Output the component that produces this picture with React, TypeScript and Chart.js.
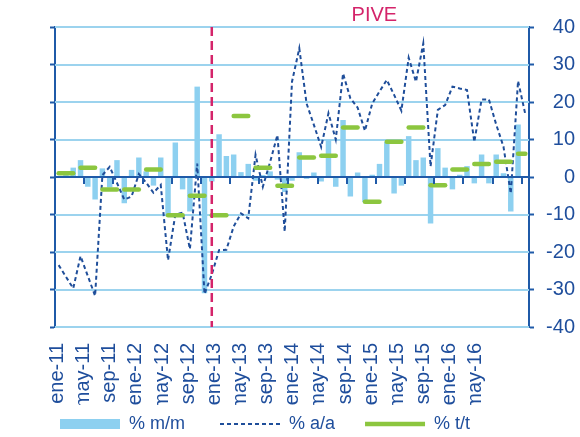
import React, { useEffect, useRef } from 'react';
import { Chart, registerables } from 'chart.js';

Chart.register(...registerables);

// ---- data ----
const monthNames = ['ene', 'feb', 'mar', 'abr', 'may', 'jun', 'jul', 'ago', 'sep', 'oct', 'nov', 'dic'];
const firstYear = 2011;
const monthCount = 65;
const categories = Array.from({ length: monthCount }, (_, i) =>
  `${monthNames[i % 12]}-${String((firstYear + Math.floor(i / 12)) % 100).padStart(2, '0')}`
);

const xTickLabels = [
  'ene-11', 'may-11', 'sep-11', 'ene-12', 'may-12', 'sep-12', 'ene-13', 'may-13', 'sep-13',
  'ene-14', 'may-14', 'sep-14', 'ene-15', 'may-15', 'sep-15', 'ene-16', 'may-16',
];

// % m/m (bars)
const mmValues = [
  0.3, 1.0, 2.5, 4.5, -2.6, -6.0, 2.3, -2.8, 4.5, -7.0, 1.9, 5.2,
  1.5, -2.3, 5.2, -10.5, 9.2, -3.3, -9.2, 24.1, -31.0, -1.2, 11.4, 5.6,
  6.0, 1.3, 3.5, -1.0, 0.5, 1.5, -0.7, -4.0, -1.0, 6.6, -0.5, 1.2,
  -1.2, 9.9, -2.6, 15.2, -5.2, 1.2, -6.7, 0.6, 3.5, 9.4, -4.4, -2.3,
  10.9, 4.5, 5.2, -12.4, 7.7, 2.5, -3.3, 0.6, 2.9, -1.7, 6.0, -1.7,
  6.0, 1.0, -9.2, 14.0, 0.0,
];

// % a/a (dashed line)
const aaValues = [
  -23.5, -26.6, -29.7, -21.1, -26.4, -31.7, 0.5, 2.7, -1.6, -6.0, -5.2, 0.8,
  -1.5, -4.2, -2.1, -22.2, -10.0, -9.5, -19.2, 3.6, -31.2, -26.0, -19.5, -19.4,
  -13.2, -9.7, -11.0, 5.9, -2.6, 4.0, 11.2, -14.6, 25.4, 34.3, 19.6, 13.9,
  8.0, 17.0, 10.0, 27.6, 21.0, 18.5, 12.3, 19.6, 22.8, 25.9, 21.9, 17.7,
  31.8, 25.4, 35.6, 2.8, 17.9, 19.2, 24.1, 23.6, 23.2, 9.4, 20.7, 20.7,
  14.0, 8.1, -4.4, 25.6, 16.7,
];

// % t/t (one value per quarter)
const ttQuarterly = [
  1.0, 2.5, -3.3, -3.3,
  2.0, -10.2, -5.0, -10.2,
  16.3, 2.5, -2.3, 5.2,
  5.7, 13.2, -6.6, 9.4,
  13.2, -2.2, 2.0, 3.5,
  4.1, 6.2,
];

const yMin = -40;
const yMax = 40;
const yStep = 10;
const xTickEvery = 4;
const pivStart = 'oct-12';
const titleText = 'PIVE';
const legendNames = ['% m/m', '% a/a', '% t/t'];

// ---- styles ----
const textBlue = '#1F4E9C';
const axisBlue = '#1F5AA8';
const gridBlue = '#9CD3EE';
const barBlue = '#8DD0F0';
const lineBlue = '#1F4E9A';
const green = '#8CC63F';
const crimson = '#D4246A';
const aaDash = [4, 3];
const legendGaps = ['     ', '    ', ''];

const ttMonthly = categories.map((_, i) => ttQuarterly[Math.floor(i / 3)]);

const xlMin = -0.096;
const xlMax = 18.04;

// gridlines, zero-axis tick marks, PIVE marker line and title
const pivePlugin = {
  id: 'pivePlugin',
  beforeDatasetsDraw(chart: any) {
    const { ctx, chartArea, scales } = chart;
    const y = scales.y;
    ctx.save();
    ctx.strokeStyle = gridBlue;
    ctx.lineWidth = 2;
    y.ticks.forEach((t: any) => {
      const py = Math.round(y.getPixelForValue(t.value));
      ctx.beginPath();
      ctx.moveTo(chartArea.left, py);
      ctx.lineTo(chartArea.right, py);
      ctx.stroke();
    });
    ctx.restore();
  },
  afterDatasetsDraw(chart: any) {
    const { ctx, chartArea, scales } = chart;
    const xs = scales.x;
    const y0 = Math.round(scales.y.getPixelForValue(0));
    const half = (xs.getPixelForValue(1) - xs.getPixelForValue(0)) / 2;
    ctx.save();
    ctx.strokeStyle = axisBlue;
    ctx.lineWidth = 2;
    for (let k = 0; k < categories.length; k += xTickEvery) {
      const px = Math.round(xs.getPixelForValue(k) - half);
      ctx.beginPath();
      ctx.moveTo(px, y0);
      ctx.lineTo(px, y0 + 7);
      ctx.stroke();
    }
    ctx.beginPath();
    ctx.moveTo(chartArea.left, y0);
    ctx.lineTo(chartArea.right, y0);
    ctx.stroke();
    const x = xs.getPixelForValue(categories.indexOf(pivStart));
    ctx.strokeStyle = crimson;
    ctx.lineWidth = 2.5;
    ctx.setLineDash([9, 5]);
    ctx.beginPath();
    ctx.moveTo(x, chartArea.top);
    ctx.lineTo(x, chartArea.bottom);
    ctx.stroke();
    ctx.restore();
  },
  afterDraw(chart: any) {
    const { ctx, chartArea, scales } = chart;
    const x = scales.x.getPixelForValue(categories.indexOf(pivStart));
    ctx.save();
    ctx.fillStyle = crimson;
    ctx.font = "20px 'Liberation Sans', Arial, sans-serif";
    ctx.textAlign = 'center';
    ctx.textBaseline = 'middle';
    ctx.fillText(titleText, (x + chartArea.right) / 2 + 4, 15);
    ctx.restore();
  },
};

export default function App() {
  const canvasRef = useRef<HTMLCanvasElement | null>(null);

  useEffect(() => {
    if (!canvasRef.current) return;
    Chart.defaults.font.family = "'Liberation Sans', Arial, sans-serif";
    const chart = new Chart(canvasRef.current, {
      type: 'bar',
      data: {
        labels: categories,
        datasets: [
          {
            type: 'bar',
            label: legendNames[0],
            data: mmValues,
            backgroundColor: barBlue,
            borderWidth: 0,
            barPercentage: 0.75,
            categoryPercentage: 1,
            order: 3,
            xAxisID: 'x',
            yAxisID: 'y',
          },
          {
            type: 'line',
            label: legendNames[1],
            data: aaValues,
            borderColor: lineBlue,
            backgroundColor: lineBlue,
            borderWidth: 2,
            borderDash: aaDash,
            pointRadius: 0,
            tension: 0,
            fill: false,
            order: 2,
            xAxisID: 'x',
            yAxisID: 'y',
          },
          {
            type: 'line',
            label: legendNames[2],
            data: ttMonthly,
            borderColor: green,
            backgroundColor: green,
            borderWidth: 4.5,
            borderCapStyle: 'round',
            pointRadius: 0,
            tension: 0,
            fill: false,
            order: 1,
            xAxisID: 'x',
            yAxisID: 'y',
            segment: {
              borderColor: (ctx: any) => (ctx.p0DataIndex % 3 === 2 ? 'rgba(0,0,0,0)' : green),
            },
          },
        ] as any,
      },
      options: {
        responsive: false,
        animation: false,
        layout: { padding: { left: 50, right: 5, top: 27, bottom: -6 } },
        plugins: {
          tooltip: { enabled: false },
          title: { display: false },
          legend: {
            position: 'bottom',
            align: 'start',
            labels: {
              usePointStyle: true,
              pointStyleWidth: 60,
              boxHeight: 10,
              padding: 10,
              color: textBlue,
              font: { size: 18 },
              sort: (a: any, b: any) => a.datasetIndex - b.datasetIndex,
              generateLabels: (chart: any) => {
                const items = (Chart.defaults as any).plugins.legend.labels.generateLabels(chart);
                return items.map((it: any) => {
                  const i = it.datasetIndex;
                  const base = { ...it, text: it.text + legendGaps[i] };
                  if (i === 0) return { ...base, pointStyle: 'rect', fillStyle: barBlue, lineWidth: 0 };
                  if (i === 1)
                    return { ...base, pointStyle: 'line', strokeStyle: lineBlue, lineWidth: 2, lineDash: aaDash, lineCap: 'butt' };
                  return { ...base, pointStyle: 'line', strokeStyle: green, lineWidth: 4.5, lineDash: [], lineCap: 'butt' };
                });
              },
            },
          },
        },
        scales: {
          x: {
            type: 'category',
            offset: true,
            display: false,
            grid: { offset: true },
          },
          xl: {
            type: 'linear',
            position: 'bottom',
            min: xlMin,
            max: xlMax,
            offset: false,
            afterBuildTicks: (s: any) => {
              s.ticks = xTickLabels.map((_, i) => ({ value: i }));
            },
            afterFit: (s: any) => {
              s.height = 78;
            },
            ticks: {
              autoSkip: false,
              maxRotation: 90,
              minRotation: 90,
              padding: 16,
              color: textBlue,
              font: { size: 20 },
              callback: (v: any) => xTickLabels[v] ?? '',
            },
            grid: { display: false, drawTicks: false },
            border: { display: false },
          },
          y: {
            position: 'left',
            min: yMin,
            max: yMax,
            afterFit: (s: any) => {
              s.width = 5;
            },
            ticks: { stepSize: yStep, padding: 12, color: textBlue, font: { size: 20 } },
            grid: { drawOnChartArea: false, color: axisBlue, tickColor: axisBlue, tickLength: 5, tickWidth: 2 },
            border: { color: axisBlue, width: 2 },
          },
          y2: {
            position: 'right',
            min: yMin,
            max: yMax,
            afterFit: (s: any) => {
              s.width = 46;
            },
            ticks: { stepSize: yStep, padding: 12, color: textBlue, font: { size: 20 }, crossAlign: 'far' },
            grid: { drawOnChartArea: false, color: axisBlue, tickColor: axisBlue, tickLength: 5, tickWidth: 2 },
            border: { color: axisBlue, width: 2 },
          },
        } as any,
      },
      plugins: [pivePlugin],
    });
    return () => chart.destroy();
  }, []);

  return (
    <div style={{ position: 'absolute', left: 0, top: 0, width: 580, height: 437 }}>
      <canvas ref={canvasRef} width={580} height={437} style={{ display: 'block' }} />
    </div>
  );
}
